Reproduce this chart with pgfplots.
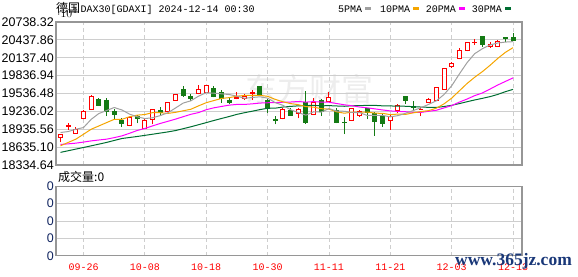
\documentclass[border=0pt]{standalone}
\usepackage{fontspec}
\setmainfont{Liberation Sans}
\setmonofont{Liberation Mono}
\newfontfamily\cjk{Noto Sans CJK SC}
\newfontfamily\wmfont{Liberation Serif}
\usepackage{pgfplots}
\usepackage{pgfplotstable}
\pgfplotsset{compat=1.18}
\definecolor{upc}{RGB}{255,0,0}
\definecolor{dnc}{RGB}{20,122,20}
\definecolor{ma5c}{RGB}{160,160,160}
\definecolor{ma10c}{RGB}{245,165,0}
\definecolor{ma20c}{RGB}{255,0,255}
\definecolor{ma30c}{RGB}{0,110,50}
\definecolor{gridc}{RGB}{206,206,206}
\definecolor{framec}{RGB}{150,150,150}
\definecolor{navyc}{RGB}{25,55,120}
\definecolor{volc}{RGB}{15,35,95}

\pgfplotstableread{
i u o h l c
0 1 18797 18864 18714 18852
1 1 18985 19036 18924 18991
2 1 18864 18981 18860 18936
3 1 19119 19258 19102 19241
4 1 19269 19508 19258 19491
5 0 19436 19465 19330 19341
6 0 19420 19465 19158 19241
7 0 19241 19281 19102 19191
8 0 19091 19131 18974 19036
9 1 18991 19148 18986 19141
10 0 19158 19169 19036 19119
11 1 18952 19102 18936 19086
12 1 19102 19281 19019 19264
13 0 19258 19314 19169 19214
14 1 19231 19391 19224 19381
15 1 19425 19536 19415 19520
16 0 19603 19658 19482 19503
17 0 19491 19532 19408 19453
18 1 19532 19687 19520 19603
19 1 19558 19687 19548 19670
20 0 19620 19670 19470 19481
21 0 19548 19603 19381 19448
22 0 19425 19475 19353 19391
23 1 19453 19565 19436 19470
24 1 19448 19536 19425 19491
25 1 19532 19592 19425 19548
26 0 19658 19658 19491 19503
27 0 19425 19448 19214 19281
28 0 19097 19158 19019 19091
29 1 19114 19298 19102 19269
30 0 19253 19298 19174 19174
31 1 19198 19291 19119 19269
32 0 19381 19587 19031 19057
33 1 19186 19453 19174 19381
34 0 19420 19436 19158 19241
35 1 19408 19565 19408 19465
36 0 19258 19298 19036 19057
37 0 19052 19148 18852 19044
38 1 19091 19298 19074 19281
39 1 19174 19253 19148 19231
40 0 19281 19298 19102 19224
41 0 19198 19224 18824 19074
42 0 19148 19214 18981 19031
43 1 19086 19186 18924 19158
44 1 19258 19365 19203 19336
45 0 19482 19482 19358 19425
46 0 19314 19403 19236 19306
47 1 19261 19303 19153 19266
48 1 19391 19458 19375 19436
49 1 19425 19653 19415 19637
50 1 19608 19959 19598 19949
51 1 19987 20071 19971 20042
52 1 20126 20293 20109 20254
53 1 20254 20404 20243 20388
54 1 20391 20450 20349 20396
55 0 20488 20488 20321 20366
56 1 20321 20404 20309 20359
57 1 20333 20433 20316 20416
58 0 20471 20471 20404 20466
59 0 20471 20560 20416 20433
}\kdata

\pgfplotstableread{
i v
0 18881
1 18897
2 18936
3 18964
4 19102
5 19200
6 19250
7 19301
8 19260
9 19190
10 19146
11 19115
12 19129
13 19165
14 19213
15 19293
16 19376
17 19414
18 19492
19 19550
20 19542
21 19531
22 19519
23 19492
24 19456
25 19470
26 19481
27 19459
28 19383
29 19338
30 19264
31 19217
32 19172
33 19230
34 19224
35 19283
36 19240
37 19238
38 19218
39 19216
40 19167
41 19171
42 19168
43 19144
44 19165
45 19205
46 19251
47 19298
48 19354
49 19414
50 19519
51 19666
52 19864
53 20054
54 20206
55 20289
56 20353
57 20385
58 20401
59 20408
}\mafive

\pgfplotstableread{
i v
0 18657
1 18714
2 18769
3 18852
4 18936
5 18991
6 19047
7 19102
8 19102
9 19146
10 19173
11 19183
12 19215
13 19213
14 19202
15 19220
16 19246
17 19272
18 19329
19 19382
20 19418
21 19454
22 19467
23 19492
24 19503
25 19506
26 19506
27 19489
28 19438
29 19397
30 19367
31 19349
32 19316
33 19307
34 19281
35 19274
36 19229
37 19205
38 19224
39 19220
40 19225
41 19206
42 19203
43 19181
44 19191
45 19186
46 19211
47 19233
48 19249
49 19290
50 19362
51 19459
52 19581
53 19704
54 19810
55 19904
56 20010
57 20125
58 20228
59 20307
}\maten

\pgfplotstableread{
i v
0 18680
1 18690
2 18702
3 18720
4 18740
5 18755
6 18769
7 18795
8 18824
9 18868
10 18915
11 18949
12 18992
13 19033
14 19069
15 19106
16 19147
17 19187
18 19216
19 19264
20 19296
21 19319
22 19341
23 19353
24 19353
25 19363
26 19376
27 19381
28 19384
29 19390
30 19393
31 19402
32 19392
33 19400
34 19392
35 19390
36 19368
37 19347
38 19331
39 19309
40 19296
41 19278
42 19260
43 19244
44 19236
45 19230
46 19220
47 19219
48 19237
49 19255
50 19294
51 19333
52 19392
53 19443
54 19501
55 19545
56 19611
57 19679
58 19739
59 19799
}\matwenty

\pgfplotstableread{
i v
0 18547
2 18602
4 18657
6 18714
8 18780
10 18814
12 18852
14 18891
15 18914
17 18977
19 19047
20 19083
21 19117
22 19150
23 19186
24 19214
25 19239
26 19266
27 19288
28 19290
29 19309
30 19320
31 19329
32 19333
33 19338
34 19329
35 19333
36 19327
37 19322
38 19330
39 19333
40 19337
41 19337
42 19329
43 19327
44 19325
45 19322
46 19315
47 19309
48 19304
49 19302
50 19318
51 19338
52 19367
53 19398
54 19428
55 19455
56 19484
57 19521
58 19567
59 19606
}\mathirty

\begin{document}
\begin{tikzpicture}[x=1bp,y=1bp]
\useasboundingbox (0,0) rectangle (578,-276);
\pgfplotsset{
  panel/.style={
    scale only axis, width=466bp, xmin=-0.587, xmax=60.17,
    axis line style={draw=framec, line width=1.2bp},
    major tick length=0pt,
    xtick={3,11,...,59},
    xmajorgrids, ymajorgrids,
    x grid style={gridc, dash pattern=on 4bp off 3bp, line width=0.8bp},
    y grid style={gridc, line width=0.8bp},
    yticklabel style={anchor=east, inner sep=0pt, xshift=-2bp,
      font=\fontsize{12.5bp}{14bp}\selectfont},
  }
}
% faint watermark
\node[text=black!7, font=\cjk\fontsize{32bp}{32bp}\selectfont, anchor=center] at (309,-89) {东方财富};

% title and legend
\node[anchor=base west, inner sep=0pt, font=\cjk\fontsize{12bp}{12bp}\selectfont] at (56,-12.3) {德国};
\node[anchor=base west, inner sep=0pt, font=\ttfamily\fontsize{10bp}{12bp}\selectfont] at (80.5,-12.3) {DAX30[GDAXI] 2024-12-14 00:30};
\node[anchor=base west, inner sep=0pt, font=\ttfamily\fontsize{10bp}{12bp}\selectfont] at (338,-12.3) {5PMA};
\fill[ma5c] (365,-7.3) rectangle (370.5,-10.3);
\node[anchor=base west, inner sep=0pt, font=\ttfamily\fontsize{10bp}{12bp}\selectfont] at (380,-12.3) {10PMA};
\fill[ma10c] (413,-7.3) rectangle (418.5,-10.3);
\node[anchor=base west, inner sep=0pt, font=\ttfamily\fontsize{10bp}{12bp}\selectfont] at (425.7,-12.3) {20PMA};
\fill[ma20c] (459,-7.3) rectangle (464.5,-10.3);
\node[anchor=base west, inner sep=0pt, font=\ttfamily\fontsize{10bp}{12bp}\selectfont] at (471.7,-12.3) {30PMA};
\fill[ma30c] (505,-7.3) rectangle (510.7,-10.3);

% main K-line panel
\begin{axis}[panel, at={(56bp,-22bp)}, anchor=north west, height=143bp,
  ymin=18334.64, ymax=20738.32,
  ytick={18334.64,18635.10,18935.56,19236.02,19536.48,19836.94,20137.40,20437.86,20738.32},
  yticklabels={18334.64,18635.10,18935.56,19236.02,19536.48,19836.94,20137.40,20437.86,20738.32},
  xticklabels={},
]
\pgfplotsinvokeforeach{0,...,59}{%
  \pgfplotstablegetelem{#1}{u}\of\kdata\let\vu\pgfplotsretval
  \pgfplotstablegetelem{#1}{o}\of\kdata\let\vo\pgfplotsretval
  \pgfplotstablegetelem{#1}{h}\of\kdata\let\vh\pgfplotsretval
  \pgfplotstablegetelem{#1}{l}\of\kdata\let\vl\pgfplotsretval
  \pgfplotstablegetelem{#1}{c}\of\kdata\let\vc\pgfplotsretval
  \pgfmathsetmacro\xa{#1-0.26}%
  \pgfmathsetmacro\xb{#1+0.26}%
  \ifnum\vu=1
    \edef\tmp{\noexpand\addplot[upc, line width=1bp, forget plot] coordinates {(#1,\vl) (#1,\vh)};
      \noexpand\addplot[draw=upc, fill=white, line width=1bp, forget plot] coordinates {(\xa,\vo) (\xb,\vo) (\xb,\vc) (\xa,\vc)} --cycle;}%
  \else
    \edef\tmp{\noexpand\addplot[dnc, line width=1bp, forget plot] coordinates {(#1,\vl) (#1,\vh)};
      \noexpand\addplot[draw=dnc, fill=dnc, line width=1bp, forget plot] coordinates {(\xa,\vo) (\xb,\vo) (\xb,\vc) (\xa,\vc)} --cycle;}%
  \fi
  \tmp
}
\addplot[ma30c, line width=1bp] table[x=i, y=v] {\mathirty};
\addplot[ma20c, line width=1bp] table[x=i, y=v] {\matwenty};
\addplot[ma10c, line width=1bp] table[x=i, y=v] {\maten};
\addplot[ma5c, line width=1bp] table[x=i, y=v] {\mafive};
\end{axis}

\node[anchor=base west, inner sep=0pt, font=\cjk\fontsize{12bp}{12bp}\selectfont] at (58,-181.5) {成交量:0};

% volume panel
\begin{axis}[panel, at={(56bp,-186.3bp)}, anchor=north west, height=69.4bp,
  ymin=0, ymax=4, ytick={0,1,2,3,4}, yticklabels={0,0,0,0,0},
  yticklabel style={text=volc},
  xticklabels={09-26,10-08,10-18,10-30,11-11,11-21,12-03,12-13},
  xticklabel style={anchor=base, inner sep=0pt, yshift=-14.3bp, text=upc,
    font=\ttfamily\fontsize{10bp}{12bp}\selectfont},
]
\addplot[draw=none, forget plot] coordinates {(0,0) (1,0)};
\end{axis}

\node[anchor=base west, inner sep=0pt, text=navyc, font=\wmfont\bfseries\fontsize{17.5bp}{18bp}\selectfont] at (455,-265) {www.365jz.com};
\end{tikzpicture}
\end{document}
